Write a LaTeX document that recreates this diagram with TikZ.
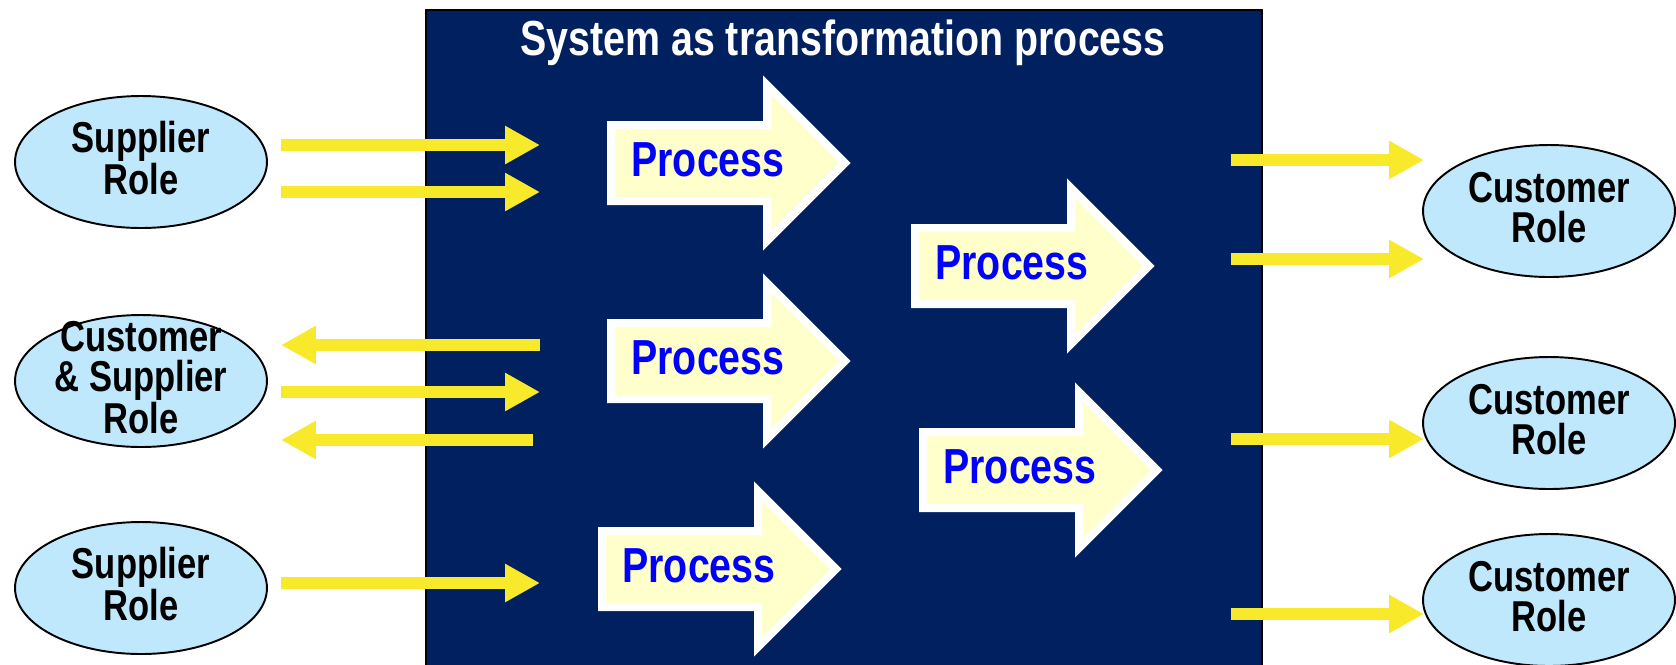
\documentclass[tikz,border=0pt]{standalone}
\usepackage{fontspec}
\setmainfont{Liberation Sans}[FakeStretch=0.8]
\usetikzlibrary{arrows.meta,shapes.geometric}

\definecolor{navy}{RGB}{0,32,96}
\definecolor{rolefill}{RGB}{192,232,253}
\definecolor{procfill}{RGB}{255,255,204}
\definecolor{procblue}{RGB}{0,0,255}
\definecolor{flowyellow}{RGB}{248,233,42}

\tikzset{
  role/.style={ellipse, draw=black, line width=1.1pt, fill=rolefill,
    minimum width=5.04cm, minimum height=2.64cm, inner xsep=0pt, inner ysep=-15pt,
    align=center, text depth=4.5pt, font=\fontsize{24.6}{22.8}\selectfont\bfseries},
  flow/.style={draw=flowyellow, line width=0.24cm, -{Triangle[length=0.7cm,width=0.72cm]}},
  procshape/.style={draw=white, fill=procfill, line width=0.16cm, line join=miter},
  proctext/.style={text=procblue, anchor=base, inner sep=0pt, font=\fontsize{28}{30}\selectfont\bfseries},
  titletext/.style={text=white, anchor=base, inner sep=0pt, font=\fontsize{28}{30}\selectfont\bfseries}
}

% #1 name, #2 tail x, #3 middle y
\newcommand{\procarrow}[3]{%
  \draw[procshape] (#2+4,#3-38) -- (#2+160,#3-38) -- (#2+160,#3-78) -- (#2+238,#3)
    -- (#2+160,#3+78) -- (#2+160,#3+38) -- (#2+4,#3+38) -- cycle;
  \node[proctext] (#1) at (#2+101,#3+13) {Process};
}

\begin{document}
\begin{tikzpicture}[x=0.02cm, y=-0.02cm]
\useasboundingbox (0,0) rectangle (1676,664);

% the system box
\draw[fill=navy, draw=black, line width=0.8pt] (426,10) rectangle (1262,680);
\node[titletext] (title) at (843,55) {System as transformation process};

% roles
\node[role] (sup1) at (141,162) {Supplier\\Role};
\node[role] (cusup) at (141,381) {Customer\\\& Supplier\\Role};
\node[role] (sup2) at (141,588) {Supplier\\Role};
\node[role] (cus1) at (1549,211) {Customer\\Role};
\node[role] (cus2) at (1549,423) {Customer\\Role};
\node[role] (cus3) at (1549,600) {Customer\\Role};

% processes
\procarrow{p1}{607}{163}
\procarrow{p2}{607}{361}
\procarrow{p3}{598}{569}
\procarrow{p4}{911}{266}
\procarrow{p5}{919}{470}

% flows on the left
\foreach \n/\y/\x in {a/145/540, b/192/540, c/345/540, d/392/540, e/440/533, f/583/540} {
  \coordinate (l\n) at (281,\y);
  \coordinate (r\n) at (\x,\y);
}
\draw[flow] (la) -- (ra);
\draw[flow] (lb) -- (rb);
\draw[flow] (rc) -- (lc);
\draw[flow] (ld) -- (rd);
\draw[flow] (re) -- (le);
\draw[flow] (lf) -- (rf);

% flows on the right
\foreach \n/\y in {a/160, b/259, c/439, d/614} {
  \coordinate (o\n) at (1231,\y);
  \coordinate (t\n) at (1424,\y);
  \draw[flow] (o\n) -- (t\n);
}
\end{tikzpicture}
\end{document}
